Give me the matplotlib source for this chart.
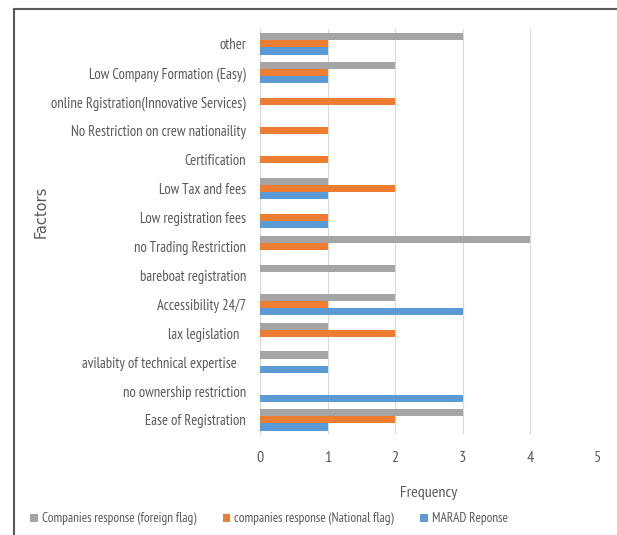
import matplotlib
matplotlib.use("Agg")
import matplotlib.pyplot as plt
from matplotlib.lines import Line2D
from matplotlib.patches import Patch
import numpy as np

categories = [
    "Ease of Registration",
    "no ownership restriction",
    "avilabity of technical expertise   ",
    "lax legislation  ",
    "Accessibility 24/7",
    "bareboat registration",
    "no Trading Restriction",
    "Low registration fees",
    "Low Tax and fees",
    "Certification",
    "No Restriction on crew nationaility",
    "online Rgistration(Innovative Services)",
    "Low Company Formation (Easy)",
    "other",
]
foreign_flag = [3, 0, 1, 1, 2, 2, 4, 0, 1, 0, 0, 0, 2, 3]
national_flag = [2, 0, 0, 2, 1, 0, 1, 1, 2, 1, 1, 2, 1, 1]
marad = [1, 3, 1, 0, 3, 0, 0, 1, 1, 0, 0, 0, 1, 1]
series_names = [
    "Companies response (foreign flag)",
    "companies response (National flag)",
    "MARAD Reponse",
]
x_ticks = [0, 1, 2, 3, 4, 5]

plt.rcParams["font.family"] = ["PT Sans Narrow", "DejaVu Sans"]

text_color = "#595959"
colors = ["#A5A5A5", "#ED7D31", "#5B9BD5"]

fig = plt.figure(figsize=(6.17, 5.35), dpi=100)
ax = fig.add_axes([0.4214, 0.188, 0.5478, 0.757])

y = np.arange(len(categories))
h = 0.245
ax.barh(y + h, foreign_flag, height=h, color=colors[0], zorder=3)
ax.barh(y, national_flag, height=h, color=colors[1], zorder=3)
ax.barh(y - h, marad, height=h, color=colors[2], zorder=3)

ax.set_xlim(0, 5)
ax.set_ylim(-0.5, len(categories) - 0.5)
ax.set_xticks(x_ticks)
ax.set_xticklabels([str(t) for t in x_ticks])
ax.set_yticks(y)
ax.set_yticklabels(categories)
ax.tick_params(axis="both", length=0, colors=text_color, labelsize=10.5)
ax.tick_params(axis="x", labelsize=11.5, pad=12)
ax.tick_params(axis="y", pad=10)
ax.xaxis.grid(True, color="#D9D9D9", linewidth=0.8, zorder=0)
for s in ["top", "right", "bottom"]:
    ax.spines[s].set_visible(False)
ax.spines["left"].set_color("#D9D9D9")
ax.spines["left"].set_linewidth(0.8)

ax.set_xlabel("Frequency", color=text_color, fontsize=11.5, labelpad=15)
fig.text(0.067, 0.605, "Factors", rotation=90, color=text_color,
         fontsize=10.5, family="DejaVu Sans", ha="center", va="center")

handles = [Patch(facecolor=c, edgecolor="none") for c in colors]
fig.legend(handles, series_names, loc="center", bbox_to_anchor=(0.436, 0.03),
           ncol=3, frameon=False, fontsize=9.5, labelcolor=text_color,
           handlelength=0.6, handleheight=0.6, handletextpad=0.3,
           columnspacing=2.0)

# outer frame (left and top edges)
fig.add_artist(Line2D([14 / 617, 14 / 617], [0, 1 - 9 / 535],
                      transform=fig.transFigure, color="#595959", linewidth=1.5))
fig.add_artist(Line2D([14 / 617, 1], [1 - 9 / 535, 1 - 9 / 535],
                      transform=fig.transFigure, color="#595959", linewidth=1.5))

fig.savefig("out.png", dpi=100, facecolor="white")
